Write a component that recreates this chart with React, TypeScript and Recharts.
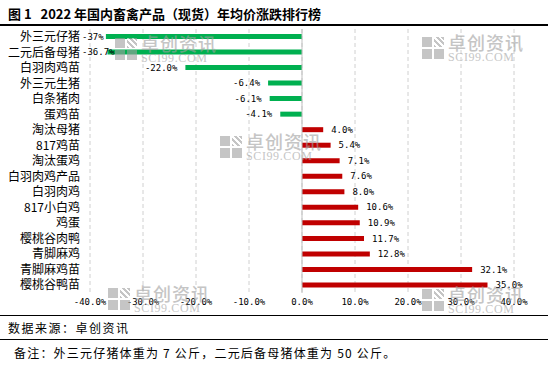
import { BarChart, Bar, XAxis, YAxis, CartesianGrid, ReferenceLine, Cell, LabelList } from "recharts";

const categories = [
  "外三元仔猪", "二元后备母猪", "白羽肉鸡苗", "外三元生猪", "白条猪肉", "蛋鸡苗",
  "淘汰母猪", "817鸡苗", "淘汰蛋鸡", "白羽肉鸡产品", "白羽肉鸡", "817小白鸡",
  "鸡蛋", "樱桃谷肉鸭", "青脚麻鸡", "青脚麻鸡苗", "樱桃谷鸭苗",
];
const changes = [-37, -36.7, -22.0, -6.4, -6.1, -4.1, 4.0, 5.4, 7.1, 7.6, 8.0, 10.6, 10.9, 11.7, 12.8, 32.1, 35.0];
const valueLabels = ["-37%", "-36.7%", "-22.0%", "-6.4%", "-6.1%", "-4.1%", "4.0%", "5.4%", "7.1%", "7.6%", "8.0%", "10.6%", "10.9%", "11.7%", "12.8%", "32.1%", "35.0%"];
const xTicks = [-40, -30, -20, -10, 0, 10, 20, 30, 40];

const data = categories.map((name, i) => ({ name, value: changes[i], label: valueLabels[i] }));

const mono = "'DejaVu Sans Mono', 'Liberation Mono', monospace";
const cjk = "'Noto Sans CJK SC', sans-serif";

const BarLabel = (props: any) => {
  const { x, y, width, height, index } = props;
  const v = changes[index];
  const text = valueLabels[index];
  const cy = y + height / 2;
  const left = Math.min(x, x + width);
  const right = Math.max(x, x + width);
  if (v < 0) {
    const w = text.length * 5.42;
    let start = left - 8 - w;
    if (start < 82) start = 82;
    return (
      <text x={start} y={cy} dy="0.35em" fontSize={9} fontFamily={mono} fill="#000" textAnchor="start">
        {text}
      </text>
    );
  }
  return (
    <text x={right + 8} y={cy} dy="0.35em" fontSize={9} fontFamily={mono} fill="#000" textAnchor="start">
      {text}
    </text>
  );
};

const Watermark = ({ left, top }: { left: number; top: number }) => (
  <div style={{ position: "absolute", left, top, display: "flex", alignItems: "center", opacity: 0.6, pointerEvents: "none" }}>
    <div style={{ display: "grid", gridTemplateColumns: "10px 10px", gridTemplateRows: "10px 10px", gap: 2, marginRight: 4 }}>
      <div style={{ background: "#a0a0a0" }} />
      <div style={{ background: "repeating-linear-gradient(45deg, #a0a0a0 0 2px, #fff 2px 4px)" }} />
      <div style={{ background: "#a0a0a0" }} />
      <div style={{ background: "#a0a0a0" }} />
    </div>
    <div style={{ lineHeight: 1 }}>
      <div style={{ fontFamily: cjk, fontSize: 18, fontWeight: 500, color: "#a0a0a0", letterSpacing: 1 }}>卓创资讯</div>
      <div style={{ fontFamily: "'Liberation Serif', serif", fontSize: 12, color: "#a0a0a0", letterSpacing: 0.6 }}>SCI99.COM</div>
    </div>
  </div>
);

export default function App() {
  return (
    <div style={{ position: "absolute", left: 0, top: 0, width: 548, height: 368, background: "#fff", overflow: "hidden" }}>
      <div style={{ position: "absolute", left: 8, top: 4, fontFamily: cjk, fontSize: 13, fontWeight: 700, color: "#000", whiteSpace: "pre" }}>
        {"图 1   2022 年国内畜禽产品（现货）年均价涨跌排行榜"}
      </div>
      <div style={{ position: "absolute", left: 0, top: 24, width: 548, height: 2, background: "#000" }} />
      <div style={{ position: "absolute", left: 0, top: 0 }}>
        <BarChart width={548} height={316} data={data} layout="vertical" margin={{ top: 29, right: 34, left: 0, bottom: 0 }} barSize={5}>
          <CartesianGrid horizontal={false} vertical stroke="#d0d0d0" strokeDasharray="4 3" />
          <XAxis
            type="number"
            domain={[-40, 40]}
            ticks={xTicks}
            tickFormatter={(v: number) => `${v.toFixed(1)}%`}
            axisLine={false}
            tickLine={false}
            tickSize={0}
            tickMargin={6}
            height={23}
            tick={{ fontSize: 9, fontFamily: mono, fill: "#000" }}
            interval={0}
          />
          <YAxis
            type="category"
            dataKey="name"
            width={90}
            axisLine={false}
            tickLine={false}
            tickSize={0}
            tickMargin={10}
            interval={0}
            tick={{ fontSize: 12, fontFamily: cjk, fill: "#000" }}
          />
          <ReferenceLine x={0} stroke="#bfbfbf" strokeWidth={1} />
          <Bar dataKey="value" isAnimationActive={false}>
            {data.map((d, i) => (
              <Cell key={i} fill={d.value < 0 ? "#00b050" : "#c00000"} />
            ))}
            <LabelList dataKey="label" content={BarLabel} />
          </Bar>
        </BarChart>
      </div>
      <Watermark left={115} top={34} />
      <Watermark left={220} top={132} />
      <Watermark left={108} top={284} />
      <Watermark left={422} top={285} />
      <Watermark left={422} top={33} />
      <div style={{ position: "absolute", left: 0, top: 315, width: 548, height: 1, background: "#000" }} />
      <div style={{ position: "absolute", left: 8, top: 319, fontFamily: cjk, fontSize: 12, color: "#000", letterSpacing: 1.5 }}>
        数据来源：卓创资讯
      </div>
      <div style={{ position: "absolute", left: 0, top: 339, width: 548, height: 1, background: "#000" }} />
      <div style={{ position: "absolute", left: 14, top: 344, fontFamily: cjk, fontSize: 12, color: "#000", letterSpacing: 1.2, whiteSpace: "pre" }}>
        {"备注：外三元仔猪体重为 7 公斤，二元后备母猪体重为 50 公斤。"}
      </div>
    </div>
  );
}
